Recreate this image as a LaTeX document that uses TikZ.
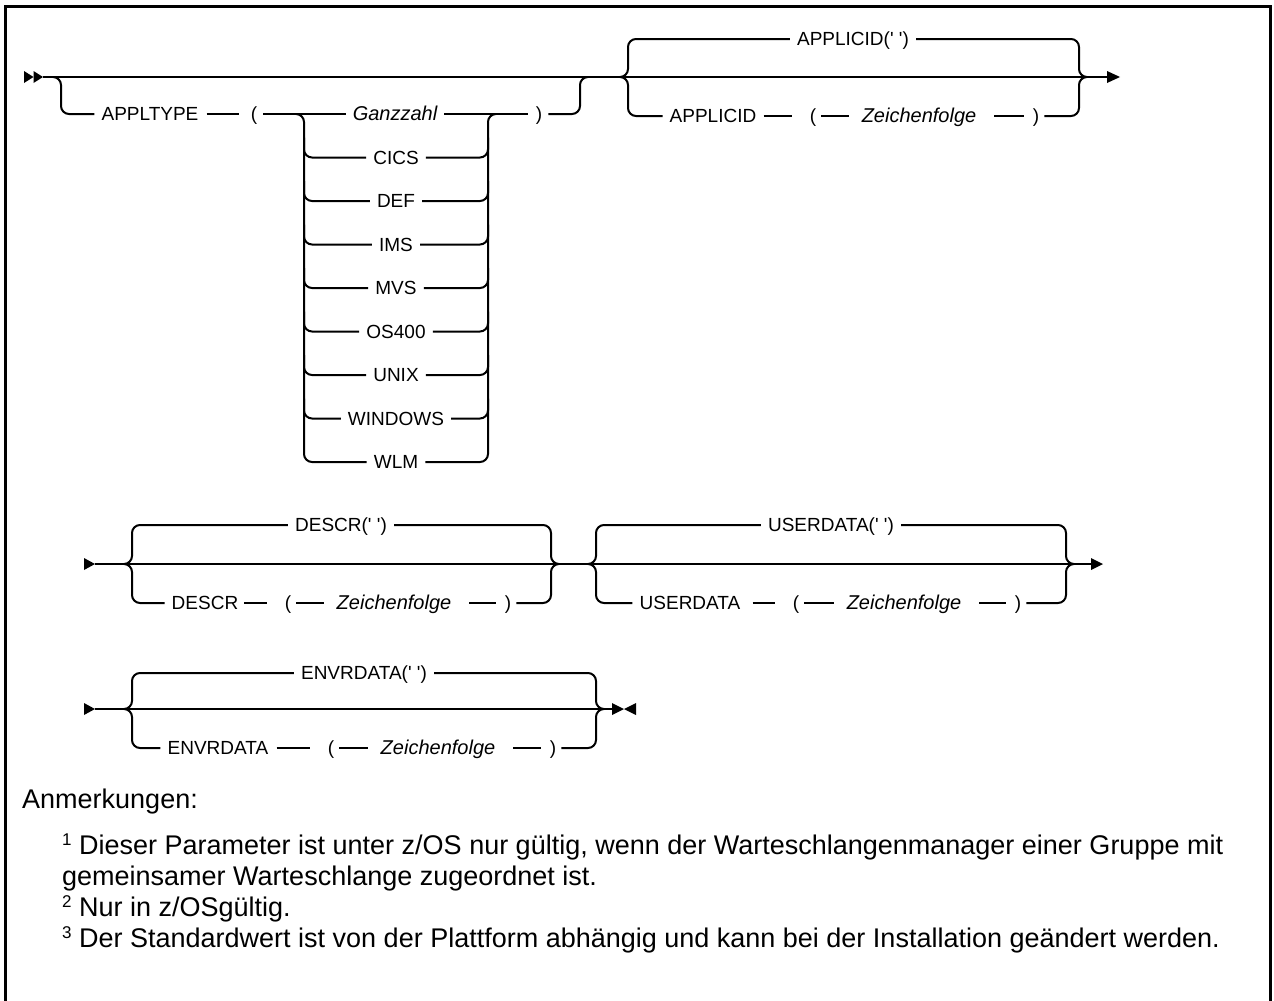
\documentclass[tikz,border=0pt]{standalone}
\usepackage{fontspec}
\setmainfont{Liberation Sans}
\usetikzlibrary{calc}
% straight segment between two tokens, with gaps #3 and #4 beside them
\newcommand{\railseg}[4]{\draw[rail] ($(#1.east)+(#3,0)$) -- ($(#2.west)-(#4,0)$);}
\newcommand{\q}{\textquotesingle}
\newcommand{\fn}[1]{\raisebox{8.5pt}{\fontsize{17}{19}\selectfont #1}}
\begin{document}
\begin{tikzpicture}[x=1pt,y=-1pt,
  rail/.style={line width=2pt, rounded corners=8pt},
  kw/.style={inner sep=0pt, text height=13.6pt, text depth=0pt, font=\fontsize{19}{22}\selectfont},
  var/.style={kw, font=\fontsize{20}{23}\selectfont\itshape},
  notetext/.style={inner sep=0pt, anchor=base west, font=\fontsize{27}{32}\selectfont}
]
\useasboundingbox (0,0) rectangle (1274,1001);
\draw[line width=3pt] (5,1001) -- (5,6) -- (1270,6) -- (1270,1001);

% ---------- first line: APPLTYPE, APPLICID ----------
\fill (24,71) -- (33.5,77) -- (24,83) -- cycle;
\fill (33.5,71) -- (43,77) -- (33.5,83) -- cycle;
\draw[rail] (43,77) -- (1108,77);
\fill (1107,71) -- (1120,77) -- (1107,83) -- cycle;

\node[kw] (appltype) at (150,114) {APPLTYPE};
\node[kw] (lp1) at (254,114) {(};
\node[var] (ganz) at (395,114) {Ganzzahl};
\node[kw] (rp1) at (539,114) {)};
\foreach \t [count=\i] in {CICS,DEF,IMS,MVS,OS400,UNIX,WINDOWS,WLM}
  \node[kw] (opt\i) at (396,{114+43.5*\i}) {\t};

\draw[rail] (53,77) -| (61,114) -- ($(appltype.west)-(7,0)$);
\railseg{appltype}{lp1}{8}{12}
\draw[rail] ($(lp1.east)+(6,0)$) -- ($(ganz.west)-(7,0)$);
\draw[rail] (296,114) -| (304,462) -- ($(opt8.west)-(7,0)$);
\draw[rail] ($(opt8.east)+(7,0)$) -| (488,114) -- (496,114);
\foreach \i in {1,...,7} {
  \draw[rail] (304,{114+43.5*\i-20}) |- ($(opt\i.west)-(7,0)$);
  \draw[rail] ($(opt\i.east)+(7,0)$) -| (488,{114+43.5*\i-20});
}
\railseg{ganz}{rp1}{7}{8}
\draw[rail] ($(rp1.east)+(6,0)$) -| (580,77) -- (588,77);

\node[kw] (appdef) at (853,39) {APPLICID(\q\ \q)};
\node[kw] (appid) at (713,116) {APPLICID};
\node[kw] (lp2) at (813,116) {(};
\node[var] (zf1) at (919,116) {Zeichenfolge};
\node[kw] (rp2) at (1036,116) {)};
\draw[rail] (620,77) -| (628,39) -- ($(appdef.west)-(7,0)$);
\draw[rail] ($(appdef.east)+(7,0)$) -| (1079,77) -- (1087,77);
\draw[rail] (620,77) -| (628,116) -- ($(appid.west)-(7,0)$);
\railseg{appid}{lp2}{7}{18}
\railseg{lp2}{zf1}{5}{13}
\railseg{zf1}{rp2}{18}{9}
\draw[rail] ($(rp2.east)+(5,0)$) -| (1079,77) -- (1087,77);

% ---------- second line: DESCR, USERDATA ----------
\fill (84,558) -- (95,564) -- (84,570) -- cycle;
\draw[rail] (95,564) -- (1092,564);
\fill (1091,558) -- (1103,564) -- (1091,570) -- cycle;

\node[kw] (descrdef) at (341,525) {DESCR(\q\ \q)};
\node[kw] (descr) at (205,603) {DESCR};
\node[kw] (lp3) at (288,603) {(};
\node[var] (zf2) at (394,603) {Zeichenfolge};
\node[kw] (rp3) at (508,603) {)};
\draw[rail] (124,564) -| (132,525) -- ($(descrdef.west)-(7,0)$);
\draw[rail] ($(descrdef.east)+(7,0)$) -| (551,564) -- (559,564);
\draw[rail] (124,564) -| (132,603) -- ($(descr.west)-(7,0)$);
\railseg{descr}{lp3}{6}{18}
\railseg{lp3}{zf2}{5}{13}
\railseg{zf2}{rp3}{18}{9}
\draw[rail] ($(rp3.east)+(5,0)$) -| (551,564) -- (559,564);

\node[kw] (userdef) at (831,525) {USERDATA(\q\ \q)};
\node[kw] (userdata) at (690,603) {USERDATA};
\node[kw] (lp4) at (796,603) {(};
\node[var] (zf3) at (904,603) {Zeichenfolge};
\node[kw] (rp4) at (1018,603) {)};
\draw[rail] (588,564) -| (596,525) -- ($(userdef.west)-(7,0)$);
\draw[rail] ($(userdef.east)+(7,0)$) -| (1066,564) -- (1074,564);
\draw[rail] (588,564) -| (596,603) -- ($(userdata.west)-(7,0)$);
\railseg{userdata}{lp4}{12}{18}
\railseg{lp4}{zf3}{5}{13}
\railseg{zf3}{rp4}{18}{9}
\draw[rail] ($(rp4.east)+(5,0)$) -| (1066,564) -- (1074,564);

% ---------- third line: ENVRDATA ----------
\fill (84,703) -- (95,709) -- (84,715) -- cycle;
\draw[rail] (95,709) -- (613,709);
\fill (612,703) -- (624,709) -- (612,715) -- cycle;
\fill (636,703) -- (624,709) -- (636,715) -- cycle;

\node[kw] (envdef) at (364,673) {ENVRDATA(\q\ \q)};
\node[kw] (envr) at (218,748) {ENVRDATA};
\node[kw] (lp5) at (331,748) {(};
\node[var] (zf4) at (438,748) {Zeichenfolge};
\node[kw] (rp5) at (553,748) {)};
\draw[rail] (124,709) -| (132,673) -- ($(envdef.west)-(7,0)$);
\draw[rail] ($(envdef.east)+(7,0)$) -| (596,709) -- (604,709);
\draw[rail] (124,709) -| (132,748) -- ($(envr.west)-(7,0)$);
\railseg{envr}{lp5}{8}{18}
\railseg{lp5}{zf4}{5}{13}
\railseg{zf4}{rp5}{18}{9}
\draw[rail] ($(rp5.east)+(5,0)$) -| (596,709) -- (604,709);

% ---------- notes ----------
\node[notetext] (notes) at (22,808) {Anmerkungen:};
\node[notetext] (n1) at (62,854) {\fn{1} Dieser Parameter ist unter z/OS nur gültig, wenn der Warteschlangenmanager einer Gruppe mit};
\node[notetext] (n1b) at (62,885) {gemeinsamer Warteschlange zugeordnet ist.};
\node[notetext] (n2) at (62,916) {\fn{2} Nur in z/OSgültig.};
\node[notetext] (n3) at (62,947) {\fn{3} Der Standardwert ist von der Plattform abhängig und kann bei der Installation geändert werden.};
\end{tikzpicture}
\end{document}
